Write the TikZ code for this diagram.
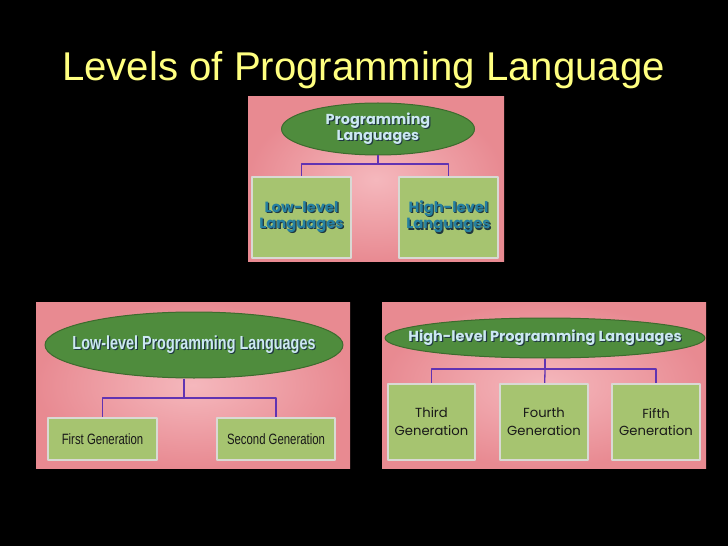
\documentclass[tikz,border=0pt]{standalone}
\usepackage{fontspec}
\usetikzlibrary{shapes.geometric}
\setmainfont{Liberation Sans}
\newfontfamily\roundfont{Poppins}
\newfontfamily\narrowfont[FakeStretch=0.76]{Liberation Sans}
\newfontfamily\gothfont{Poppins}
\definecolor{titlecol}{rgb}{1.0,1.0,0.50}
\definecolor{pinkout}{rgb}{0.91,0.54,0.57}
\definecolor{pinkin}{rgb}{0.96,0.72,0.74}
\definecolor{ovalgreen}{rgb}{0.31,0.55,0.24}
\definecolor{ovalline}{rgb}{0.24,0.42,0.18}
\definecolor{boxgreen}{rgb}{0.65,0.77,0.44}
\definecolor{boxline}{rgb}{0.85,0.85,0.83}
\definecolor{linkcol}{rgb}{0.38,0.20,0.70}
\definecolor{ovaltext}{rgb}{0.80,0.91,0.95}
\definecolor{shadcol}{rgb}{0.12,0.22,0.25}
\definecolor{tealtext}{rgb}{0.15,0.50,0.63}
\definecolor{darktext}{rgb}{0.10,0.10,0.10}
\def\shad#1{\leavevmode\rlap{\kern1.2pt\raisebox{-1.2pt}{\textcolor{shadcol}{#1}}}#1}
\def\nowd#1{\makebox[0pt]{#1}}

\begin{document}
\begin{tikzpicture}[x=1bp,y=-1bp,line join=bevel,
    oval/.style={ellipse,draw=ovalline,line width=1bp,fill=ovalgreen,inner sep=0pt,text=ovaltext,align=center},
    gbox/.style={rectangle,draw=boxline,line width=2.2bp,fill=boxgreen,inner sep=0pt,align=center},
    link/.style={draw=linkcol,line width=1.3bp},
    panel/.style={inner color=pinkin,outer color=pinkout}]
      \fill[black] (0,0) rectangle (728,546);
      \useasboundingbox (0,0) rectangle (728,546);
      \node (title) at (62,81) [anchor=base west,text=titlecol,inner sep=0pt,font=\fontsize{40.3}{44}\selectfont] {Levels of Programming Language};
      %%
      \shade[panel] (248,97) rectangle (504,262);
      \shade[panel] (36,302) rectangle (350,468);
      \shade[panel] (382,302) rectangle (706,468);
      %% top panel
      \node (pl) at (378,129) [oval,minimum width=193bp,minimum height=52bp,font=\roundfont\bfseries\fontsize{14.5}{16}\selectfont] {\shad{Programming}\\\shad{Languages}};
      \node (ll) at (301.5,217.5) [gbox,minimum width=99bp,minimum height=81bp,text=tealtext,font=\roundfont\bfseries\fontsize{14.8}{16.5}\selectfont] {\shad{Low-level}\\\shad{Languages}};
      \node (hl) at (448.5,217.5) [gbox,minimum width=99bp,minimum height=81bp,text=tealtext,font=\roundfont\bfseries\fontsize{14.8}{16.5}\selectfont] {\shad{High-level}\\\shad{Languages}};
      \coordinate (j1) at (378,164);
      \draw[link] (pl) -- (j1);
      \draw[link] (ll.north) |- (j1) -| (hl.north);
      %% low-level panel
      \node (lpl) at (194,345) [oval,minimum width=298bp,minimum height=66bp,font=\narrowfont\bfseries\fontsize{19}{22}\selectfont] {\nowd{\shad{Low-level Programming Languages}}};
      \node (fg) at (102.5,439) [gbox,minimum width=109bp,minimum height=42bp,text=darktext,font=\narrowfont\fontsize{15}{18}\selectfont] {First Generation};
      \node (sg) at (276,439) [gbox,minimum width=118bp,minimum height=42bp,text=darktext,font=\narrowfont\fontsize{15}{18}\selectfont] {Second Generation};
      \coordinate (j2) at (184,398);
      \draw[link] (lpl.south -| j2) -- (j2);
      \draw[link] (fg.north) |- (j2) -| (sg.north);
      %% high-level panel
      \node (hpl) at (545,338) [oval,minimum width=320bp,minimum height=40bp,font=\gothfont\bfseries\fontsize{14.6}{16}\selectfont] {\nowd{\shad{High-level Programming Languages}}};
      \node (tg) at (431.5,422) [gbox,minimum width=87bp,minimum height=76bp,text=darktext,font=\gothfont\fontsize{13.2}{18}\selectfont] {Third\\Generation};
      \node (fog) at (544,422) [gbox,minimum width=88bp,minimum height=76bp,text=darktext,font=\gothfont\fontsize{13.2}{18}\selectfont] {Fourth\\Generation};
      \node (fig) at (656,422) [gbox,minimum width=88bp,minimum height=76bp,text=darktext,font=\gothfont\fontsize{13.2}{18}\selectfont] {Fifth\\Generation};
      \coordinate (j3) at (545,369);
      \draw[link] (hpl) -- (j3);
      \draw[link] (tg.north) |- (j3) -| (fig.north);
      \draw[link] (j3) -- (fog);
    \end{tikzpicture}
\end{document}
